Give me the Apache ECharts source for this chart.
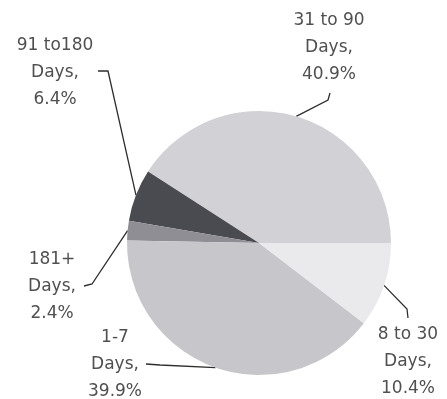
<!DOCTYPE html>
<html>
<head>
<meta charset="utf-8">
<script src="https://cdn.jsdelivr.net/npm/echarts@6/dist/echarts.min.js"></script>
<style>
  html, body { margin: 0; padding: 0; background: #ffffff; }
  #chart { width: 447px; height: 399px; }
</style>
</head>
<body>
<div id="chart"></div>
<script>
// Age buckets, in drawing order (counter-clockwise from 3 o'clock)
const categories = ['31 to 90\nDays', '91 to180\nDays', '181+\nDays', '1-7\nDays', '8 to 30\nDays'];
const shares = [40.9, 6.4, 2.4, 39.9, 10.4];
const sliceColors = ['#d2d2d6', '#4a4a51', '#8e8e94', '#c6c6cb', '#eaeaec'];

// Label block centres and leader-line bends (page pixels)
const labelCentres = [[329, 48], [55, 73], [52, 287], [115, 365], [408, 362]];
const leaderBends = [
  [[328, 100], [330, 93]],
  [[108, 71], [98, 71]],
  [[92, 284], [84, 286]],
  [[160, 365], [146, 364]],
  [[407, 309], [408, 318]]
];

const chart = echarts.init(document.getElementById('chart'), null, { renderer: 'canvas' });

chart.setOption({
  backgroundColor: '#ffffff',
  animation: false,
  series: [{
    type: 'pie',
    center: [259, 243],
    radius: 132,
    startAngle: 0,
    clockwise: false,
    avoidLabelOverlap: false,
    data: categories.map((name, i) => ({
      name: name,
      value: shares[i],
      itemStyle: { color: sliceColors[i] }
    })),
    itemStyle: { borderWidth: 0 },
    label: {
      show: true,
      position: 'outside',
      formatter: p => p.name + ',\n' + p.value.toFixed(1) + '%',
      fontFamily: 'DejaVu Sans',
      fontSize: 17,
      lineHeight: 27,
      color: '#505050',
      align: 'center'
    },
    labelLine: {
      show: true,
      length: 10,
      length2: 10,
      lineStyle: { color: '#2e2e2e', width: 1.3 }
    },
    labelLayout: function (params) {
      const i = params.dataIndex;
      const start = params.labelLinePoints ? params.labelLinePoints[0] : null;
      const out = {
        x: labelCentres[i][0],
        y: labelCentres[i][1],
        align: 'center',
        verticalAlign: 'middle'
      };
      if (start) {
        out.labelLinePoints = [start, leaderBends[i][0], leaderBends[i][1]];
      }
      return out;
    },
    emphasis: { disabled: true }
  }]
});
</script>
</body>
</html>
